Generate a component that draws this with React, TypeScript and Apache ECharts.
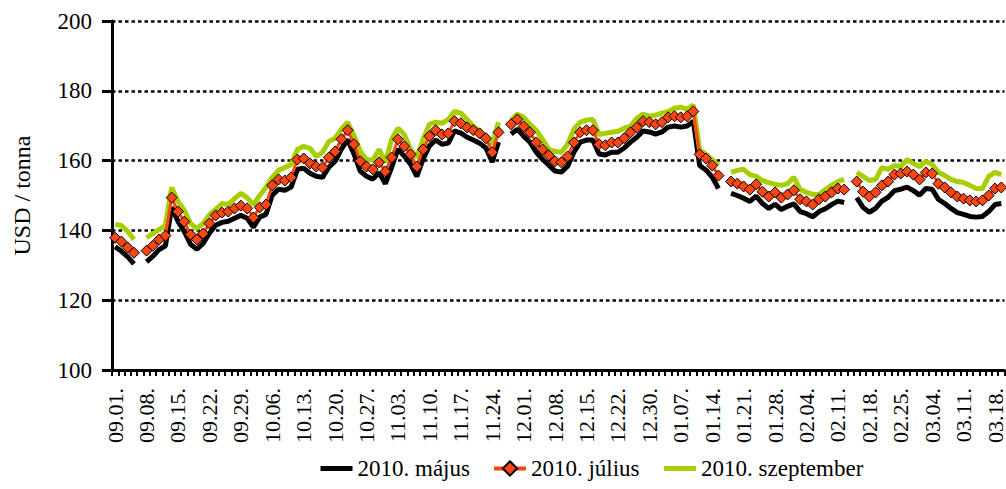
import React, { useEffect, useRef } from "react";
import * as echarts from "echarts";

const dates: string[] = [
  "09.01.", "09.02.", "09.03.", "09.04.", "09.07.", "09.08.", "09.09.", "09.10.", "09.11.", "09.14.",
  "09.15.", "09.16.", "09.17.", "09.18.", "09.21.", "09.22.", "09.23.", "09.24.", "09.25.", "09.28.",
  "09.29.", "09.30.", "10.01.", "10.02.", "10.05.", "10.06.", "10.07.", "10.08.", "10.09.", "10.12.",
  "10.13.", "10.14.", "10.15.", "10.16.", "10.19.", "10.20.", "10.21.", "10.22.", "10.23.", "10.26.",
  "10.27.", "10.28.", "10.29.", "10.30.", "11.02.", "11.03.", "11.04.", "11.05.", "11.06.", "11.09.",
  "11.10.", "11.11.", "11.12.", "11.13.", "11.16.", "11.17.", "11.18.", "11.19.", "11.20.", "11.23.",
  "11.24.", "11.25.", "11.26.", "11.27.", "11.30.", "12.01.", "12.02.", "12.03.", "12.04.", "12.07.",
  "12.08.", "12.09.", "12.10.", "12.11.", "12.14.", "12.15.", "12.16.", "12.17.", "12.18.", "12.21.",
  "12.22.", "12.23.", "12.24.", "12.28.", "12.29.", "12.30.", "12.31.", "01.04.", "01.05.", "01.06.",
  "01.07.", "01.08.", "01.11.", "01.12.", "01.13.", "01.14.", "01.15.", "01.18.", "01.19.", "01.20.",
  "01.21.", "01.22.", "01.25.", "01.26.", "01.27.", "01.28.", "01.29.", "02.01.", "02.02.", "02.03.",
  "02.04.", "02.05.", "02.08.", "02.09.", "02.10.", "02.11.", "02.12.", "02.15.", "02.16.", "02.17.",
  "02.18.", "02.19.", "02.22.", "02.23.", "02.24.", "02.25.", "02.26.", "03.01.", "03.02.", "03.03.",
  "03.04.", "03.05.", "03.08.", "03.09.", "03.10.", "03.11.", "03.12.", "03.15.", "03.16.", "03.17.",
  "03.18.", "03.19.",
];

const may: (number | null)[] = [
  135.3, 134.0, 132.4, 130.4, null, 131.0, 132.6, 134.5, 135.6, 146.6,
  142.6, 139.7, 136.0, 134.6, 136.3, 139.2, 141.5, 142.3, 142.6, 143.5,
  144.3, 143.5, 140.9, 143.8, 144.6, 150.1, 151.8, 151.5, 152.4, 157.5,
  157.8, 156.4, 155.5, 155.2, 158.1, 159.8, 163.3, 166.0, 161.9, 157.0,
  155.5, 154.7, 156.5, 153.4, 158.1, 163.3, 161.3, 159.0, 155.5, 160.4,
  164.2, 165.9, 164.7, 165.0, 168.5, 167.9, 166.7, 165.9, 165.0, 163.6,
  159.6, 165.3, null, 167.6, 169.0, 167.0, 165.3, 162.4, 160.4, 158.7,
  157.0, 156.7, 158.4, 162.4, 165.3, 165.9, 165.9, 161.9, 161.6, 162.4,
  162.4, 163.6, 165.3, 166.7, 168.5, 168.2, 167.6, 168.2, 169.6, 169.9,
  169.6, 169.9, 171.3, 158.6, 157.3, 155.3, 152.0, null, 150.6, 150.0,
  149.2, 148.3, 149.8, 147.7, 146.3, 147.5, 146.0, 146.9, 147.6, 145.4,
  144.8, 143.9, 145.4, 146.2, 147.4, 148.4, 148.0, null, 149.4, 146.6,
  145.2, 146.3, 148.4, 149.5, 151.4, 151.8, 152.4, 151.4, 150.1, 152.0,
  151.8, 148.9, 147.7, 146.3, 145.1, 144.6, 144.0, 143.8, 144.0, 145.4,
  147.4, 147.7,
];

const july: (number | null)[] = [
  137.9, 136.8, 135.1, 133.6, null, 134.2, 135.6, 137.4, 138.5, 149.4,
  145.4, 142.5, 138.8, 137.4, 139.1, 142.0, 144.3, 145.1, 145.4, 146.3,
  147.1, 146.3, 143.7, 146.6, 147.4, 152.9, 154.6, 154.3, 155.2, 160.3,
  160.6, 159.2, 158.3, 158.0, 160.9, 162.6, 166.1, 168.7, 164.7, 159.8,
  158.3, 157.5, 159.5, 156.9, 160.9, 166.1, 164.1, 161.8, 158.3, 163.2,
  167.0, 168.7, 167.5, 167.8, 171.3, 170.7, 169.5, 168.7, 167.8, 166.4,
  162.4, 168.1, null, 170.4, 171.8, 169.8, 168.1, 165.2, 163.2, 161.5,
  159.8, 159.5, 161.2, 165.2, 168.1, 168.7, 168.7, 164.7, 164.4, 165.2,
  165.2, 166.4, 168.1, 169.5, 171.3, 171.0, 170.4, 171.0, 172.4, 172.7,
  172.4, 172.7, 174.1, 161.8, 160.6, 158.6, 155.7, null, 154.0, 153.4,
  152.6, 151.7, 153.2, 151.1, 149.7, 150.9, 149.4, 150.3, 151.5, 148.9,
  148.3, 147.4, 148.9, 149.7, 150.9, 152.0, 151.7, null, 154.0, 151.1,
  149.7, 150.9, 152.9, 154.0, 156.0, 156.3, 156.9, 156.0, 154.6, 156.6,
  156.3, 153.4, 152.3, 150.9, 149.7, 149.1, 148.6, 148.3, 148.6, 150.0,
  152.0, 152.3,
];

const september: (number | null)[] = [
  141.7, 141.4, 139.7, 137.4, null, 137.9, 139.1, 140.2, 141.4, 152.3,
  148.3, 145.7, 142.0, 140.5, 142.0, 144.5, 146.0, 147.7, 147.4, 149.1,
  150.6, 149.4, 147.4, 150.0, 152.3, 155.2, 157.2, 158.0, 158.9, 163.2,
  164.1, 163.5, 161.2, 162.4, 165.5, 166.4, 169.0, 171.0, 167.2, 162.6,
  160.3, 160.1, 163.2, 159.5, 166.1, 169.3, 167.5, 163.2, 160.9, 166.1,
  170.4, 171.0, 170.7, 171.8, 174.1, 173.6, 171.8, 169.8, 168.4, 166.7,
  164.7, 171.0, null, 171.6, 173.3, 172.4, 170.4, 168.7, 166.1, 163.2,
  162.6, 162.4, 164.7, 169.0, 171.0, 171.6, 171.8, 167.5, 167.8, 168.1,
  168.4, 169.3, 169.8, 172.1, 173.3, 172.7, 173.0, 173.6, 174.1, 175.0,
  175.3, 174.7, 175.9, 163.2, 161.8, 160.3, 158.6, null, 156.6, 157.2,
  157.5, 156.0, 155.5, 154.3, 153.7, 153.2, 152.9, 153.4, 155.2, 151.7,
  150.9, 150.3, 150.3, 151.7, 152.9, 154.0, 154.6, null, 156.6, 155.5,
  154.3, 154.6, 158.0, 157.5, 158.6, 158.3, 160.3, 159.2, 158.3, 159.8,
  158.9, 156.6, 155.7, 154.6, 154.0, 153.7, 152.9, 152.0, 152.0, 155.5,
  156.6, 156.0,
];

const seriesNames = ["2010. május", "2010. július", "2010. szeptember"];
const yName = "USD / tonna";

const FONT = "'Liberation Serif', 'Times New Roman', serif";

export default function App() {
  const ref = useRef<HTMLDivElement>(null);

  useEffect(() => {
    if (!ref.current) return;
    const chart = echarts.init(ref.current, undefined, { renderer: "svg" });
    chart.setOption({
      animation: false,
      backgroundColor: "#ffffff",
      textStyle: { fontFamily: FONT, color: "#000" },
      grid: { left: 112, right: 0, top: 21, bottom: 119, containLabel: false },
      legend: {
        data: [
          { name: seriesNames[0], itemStyle: { opacity: 0 }, lineStyle: { width: 5, color: "#000000" } },
          { name: seriesNames[1], lineStyle: { width: 4, color: "#FF4511" } },
          { name: seriesNames[2], itemStyle: { opacity: 0 }, lineStyle: { width: 5, color: "#A6CE00" } },
        ],
        left: 313,
        top: 452,
        itemWidth: 32,
        itemHeight: 18,
        itemGap: 22,
        textStyle: { fontFamily: FONT, fontSize: 23, color: "#000" },
      },
      xAxis: {
        type: "category",
        data: dates,
        boundaryGap: true,
        axisLine: { show: true, lineStyle: { color: "#000", width: 3 } },
        axisTick: { show: true, interval: 0, length: 6, lineStyle: { color: "#000", width: 2 } },
        axisLabel: {
          interval: 4,
          rotate: 90,
          margin: 18,
          fontFamily: FONT,
          fontSize: 22,
          color: "#000",
        },
        splitLine: { show: false },
      },
      yAxis: {
        type: "value",
        min: 100,
        max: 200,
        interval: 20,
        name: yName,
        nameLocation: "middle",
        nameRotate: 90,
        nameGap: 78,
        nameTextStyle: { fontFamily: FONT, fontSize: 24, color: "#000" },
        axisLine: { show: true, lineStyle: { color: "#000", width: 3 } },
        axisTick: { show: true, length: 10, lineStyle: { color: "#000", width: 3 } },
        axisLabel: { margin: 20, fontFamily: FONT, fontSize: 23, color: "#000" },
        splitLine: { show: true, lineStyle: { color: "#000", width: 2.5, type: [3.5, 3] } },
      },
      series: [
        {
          name: seriesNames[0],
          type: "line",
          data: may,
          z: 2,
          showSymbol: false,
          symbol: "none",
          connectNulls: false,
          itemStyle: { color: "#000000" },
          lineStyle: { color: "#000000", width: 5 },
        },
        {
          name: seriesNames[1],
          type: "line",
          data: july,
          z: 4,
          symbol: "diamond",
          symbolSize: 11,
          showSymbol: true,
          showAllSymbol: true,
          connectNulls: false,
          itemStyle: { color: "#FF4511", borderColor: "#000", borderWidth: 1 },
          lineStyle: { color: "#FF4511", width: 3 },
        },
        {
          name: seriesNames[2],
          type: "line",
          data: september,
          z: 3,
          showSymbol: false,
          symbol: "none",
          connectNulls: false,
          itemStyle: { color: "#A6CE00" },
          lineStyle: { color: "#A6CE00", width: 5 },
        },
      ],
    });
    return () => chart.dispose();
  }, []);

  return (
    <div
      ref={ref}
      style={{ position: "absolute", left: 0, top: 0, width: 1006, height: 489, background: "#fff" }}
    />
  );
}
